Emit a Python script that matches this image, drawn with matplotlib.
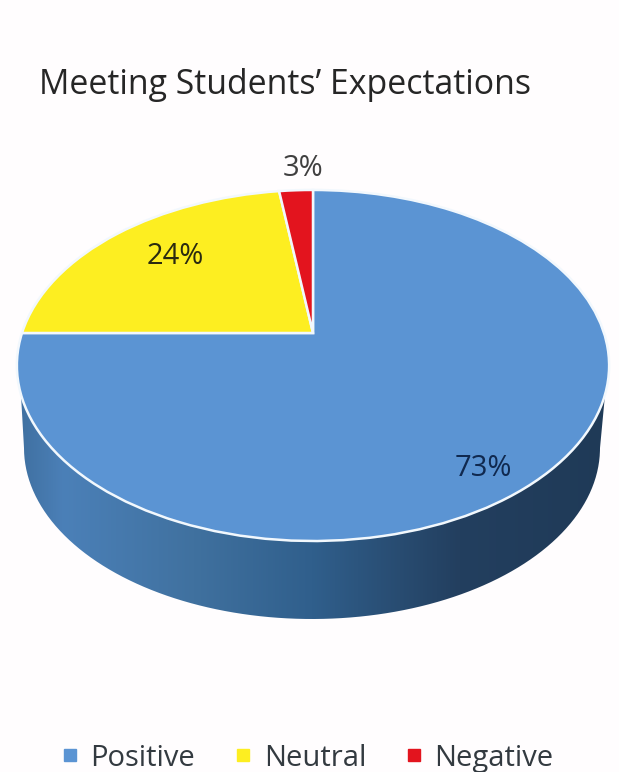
import numpy as np
import matplotlib
matplotlib.use("Agg")
import matplotlib.pyplot as plt
from matplotlib.colors import LinearSegmentedColormap
from matplotlib.lines import Line2D
from matplotlib.patches import PathPatch
from matplotlib.path import Path
from matplotlib.transforms import Transform

title = "Meeting Students\u2019 Expectations"
categories = ["Positive", "Neutral", "Negative"]
# printed percentages
value_labels = ["73%", "24%", "3%"]
# slice sizes as they are actually drawn in the picture (not the same as the printed ones)
drawn_shares = [75.0, 22.8, 2.2]
colors = ["#5b94d3", "#fdee21", "#e3141e"]

plt.rcParams["font.family"] = ["Open Sans", "DejaVu Sans"]


class Perspective(Transform):
    # tilts the unit circle of the pie into the picture, far side squeezed
    input_dims = 2
    output_dims = 2
    has_inverse = False

    def __init__(self, cx, cy, b, a, k):
        super().__init__()
        self.cx, self.cy, self.b, self.a, self.k = cx, cy, b, a, k

    def transform_non_affine(self, values):
        values = np.asarray(values)
        d = 1 + self.k * values[:, 1]
        return np.column_stack([self.cx + self.b * values[:, 0] / d,
                                self.cy - self.a * values[:, 1] / d])


def rim_points(cx, cy, rx, ry, t):
    return np.column_stack([cx + rx * np.cos(t), cy + ry * np.sin(t)])


fig = plt.figure(figsize=(6.19, 7.72), dpi=100, facecolor="#fffdfe")
ax = fig.add_axes([0, 0, 1, 1])

wedges, _ = ax.pie(drawn_shares, colors=colors, startangle=90, counterclock=False,
                   wedgeprops={"edgecolor": "#f2f8fd", "linewidth": 1.8})
persp = Perspective(313, 333, 291, 169.5, 0.185)
for w in wedges:
    w.set_transform(persp + ax.transData)
    w.set_zorder(3)

# side of the cylinder
side_cmap = LinearSegmentedColormap.from_list(
    "side", [(0, "#3f6f9f"), (0.08, "#4b80b8"), (0.3, "#40719f"), (0.5, "#305f8c"),
             (0.75, "#233f5f"), (1, "#1f3a57")])
grad = ax.imshow(np.linspace(0, 1, 256).reshape(1, -1), cmap=side_cmap,
                 extent=(16, 608, 622, 360), aspect="auto", zorder=1)
t = np.linspace(np.pi, 0, 200)
outline = np.vstack([[[21, 395]], rim_points(312, 448, 288, 171, t), [[605, 395]]])
clip = PathPatch(Path(outline), transform=ax.transData, facecolor="none", edgecolor="none")
ax.add_patch(clip)
grad.set_clip_path(clip)

ax.set_aspect("auto")
ax.set_xlim(0, 619)
ax.set_ylim(772, 0)
ax.set_axis_off()

ax.text(39, 85, title, fontsize=24.4, color="#262626", ha="left", va="center", zorder=5)
label_colors = ["#10294f", "#2a2a10", "#404040"]
label_pos = [(483, 468), (175, 257), (303, 169)]
for s, c, p in zip(value_labels, label_colors, label_pos):
    ax.text(p[0], p[1], s, fontsize=21, color=c, ha="center", va="center", zorder=5)

handles = [Line2D([], [], linestyle="none", marker="s", markersize=9, color=c, label=n)
           for n, c in zip(categories, colors)]
fig.legend(handles=handles, ncol=3, frameon=False, loc="center", bbox_to_anchor=(0.492, 0.018),
           fontsize=21, labelcolor="#333a40", handlelength=1.0, handletextpad=0.2,
           columnspacing=1.15, borderpad=0)

fig.savefig("out.png", dpi=100, facecolor=fig.get_facecolor())
